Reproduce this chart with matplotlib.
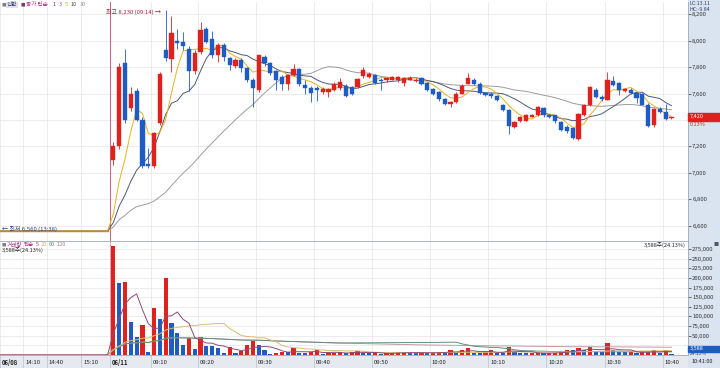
import matplotlib.pyplot as plt
import matplotlib.transforms as mtransforms
from matplotlib.patches import Rectangle
import numpy as np
import pandas as pd

plt.rcParams['font.family'] = ['Noto Sans CJK KR', 'DejaVu Sans']

# 06/08 (전일) - 6,560 에서 거래 거의 없음
prev_close = [6560] * 20
prev_vol = [0] * 20

# 06/11 1분봉 09:00 ~ 10:41
opens = [7100, 7200, 7830, 7490, 7620, 7400, 7070, 7050, 7380, 7930,
         7865, 8000, 7990, 7940, 7770, 7915, 8085, 8015, 7890, 7965,
         7870, 7805, 7855, 7790, 7705, 7630, 7875, 7830, 7770, 7725,
         7675, 7740, 7785, 7665, 7645, 7645, 7610, 7615, 7630, 7640,
         7660, 7650, 7650, 7730, 7725, 7740, 7705, 7700, 7705, 7700,
         7680, 7705, 7695, 7715, 7680, 7635, 7610, 7560, 7523, 7535,
         7600, 7675, 7705, 7675, 7605, 7600, 7580, 7510, 7472, 7350,
         7391, 7396, 7425, 7434, 7492, 7435, 7434, 7383, 7350, 7340,
         7256, 7434, 7510, 7629, 7575, 7553, 7694, 7679, 7620, 7629,
         7603, 7599, 7517, 7365, 7485, 7464, 7415]
highs = [7230, 7830, 7940, 7650, 7640, 7420, 7190, 7310, 7760, 8230,
         8190, 8090, 8065, 7960, 7930, 8145, 8100, 8075, 7980, 7985,
         7880, 7870, 7870, 7800, 7715, 7895, 7890, 7840, 7780, 7740,
         7750, 7825, 7795, 7700, 7660, 7660, 7650, 7645, 7690, 7720,
         7670, 7660, 7720, 7800, 7760, 7750, 7715, 7725, 7735, 7730,
         7725, 7730, 7715, 7725, 7690, 7645, 7620, 7570, 7545, 7610,
         7670, 7757, 7715, 7685, 7615, 7610, 7590, 7520, 7480, 7390,
         7430, 7445, 7445, 7505, 7500, 7445, 7440, 7390, 7360, 7350,
         7455, 7520, 7660, 7640, 7590, 7765, 7730, 7690, 7645, 7640,
         7610, 7605, 7525, 7490, 7495, 7520, 7425]
lows = [7060, 7180, 7380, 7470, 7390, 7040, 7040, 7040, 7360, 7850,
        7760, 7940, 7930, 7620, 7750, 7900, 7980, 7870, 7840, 7850,
        7775, 7790, 7765, 7690, 7500, 7610, 7810, 7740, 7630, 7625,
        7630, 7730, 7660, 7600, 7535, 7540, 7600, 7575, 7620, 7630,
        7575, 7590, 7640, 7720, 7715, 7670, 7630, 7690, 7700, 7690,
        7660, 7700, 7690, 7665, 7620, 7590, 7545, 7510, 7497, 7530,
        7595, 7670, 7665, 7595, 7580, 7570, 7540, 7470, 7295, 7340,
        7385, 7390, 7420, 7430, 7425, 7415, 7380, 7315, 7300, 7255,
        7250, 7430, 7505, 7565, 7540, 7550, 7655, 7590, 7610, 7595,
        7530, 7510, 7350, 7345, 7455, 7400, 7410]
closes = [7200, 7800, 7400, 7600, 7400, 7050, 7050, 7300, 7745, 7870,
          8055, 7985, 7960, 7770, 7905, 8080, 7990, 7890, 7965, 7875,
          7815, 7855, 7795, 7705, 7640, 7890, 7830, 7755, 7705, 7675,
          7740, 7785, 7670, 7645, 7605, 7630, 7635, 7635, 7675, 7690,
          7585, 7600, 7710, 7775, 7750, 7680, 7695, 7715, 7725, 7725,
          7715, 7720, 7705, 7675, 7630, 7600, 7560, 7520, 7535, 7600,
          7660, 7720, 7675, 7605, 7590, 7580, 7548, 7477, 7358, 7383,
          7421, 7434, 7435, 7497, 7434, 7425, 7391, 7325, 7320, 7264,
          7447, 7510, 7649, 7573, 7560, 7705, 7662, 7624, 7635, 7603,
          7568, 7517, 7358, 7485, 7464, 7409, 7420]
volumes = [282000, 188000, 190000, 85000, 48000, 79000, 7000, 123000, 94000, 201000,
           84000, 57000, 27000, 44000, 15000, 46000, 24000, 24000, 17000, 6000,
           20000, 6000, 10000, 25000, 37000, 26000, 13000, 3000, 5000, 8000,
           8000, 18000, 4000, 4000, 8000, 13000, 3000, 5000, 6000, 7000,
           4000, 8000, 10000, 5000, 4000, 6000, 3000, 4000, 5000, 7000,
           9000, 5000, 4000, 6000, 5000, 7000, 8000, 6000, 14000, 5000,
           12000, 18000, 5000, 4000, 7000, 12000, 6000, 5000, 20000, 8000,
           6000, 4000, 5000, 6000, 4000, 5000, 6000, 8000, 14000, 12000,
           18000, 12000, 20000, 10000, 8000, 30000, 12000, 9000, 7000, 8000,
           6000, 7000, 9000, 12000, 5000, 14000, 3588]

price_ticks = [6600, 6800, 7000, 7200, 7600, 7800, 8000, 8200]   # 7,400 은 현재가 박스에 가려짐
vol_ticks = [50000, 75000, 100000, 125000, 150000, 175000, 200000, 225000, 250000, 275000]

time_labels = ['06/08', '14:10', '14:40', '15:10', '06/11', '09:10', '09:20', '09:30',
               '09:40', '09:50', '10:00', '10:10', '10:20', '10:30', '10:40']
time_pos = [-19, -15, -11, -5, 0, 7, 15, 25, 35, 45, 55, 65, 75, 85, 95]

RED = '#e0221e'
BLUE = '#1d5cc2'

W, H = 720, 368


def box(l, t, r, b):
    return [l / W, 1 - b / H, (r - l) / W, (b - t) / H]


def ftext(px, py, s, **kw):
    kw.setdefault('size', 4)
    kw.setdefault('va', 'center')
    return fig.text(px / W, 1 - py / H, s, **kw)


fig = plt.figure(figsize=(7.2, 3.68), dpi=100)
fig.patch.set_facecolor('white')
fig.patches.append(Rectangle((688 / W, 0), 32 / W, 1, transform=fig.transFigure,
                             color='#dae4f0', zorder=-1))

ax_p = fig.add_axes(box(0, 2, 688, 241))
ax_v = fig.add_axes(box(0, 241, 688, 355), sharex=ax_p)
ax_t = fig.add_axes(box(0, 355, 688, 368), sharex=ax_p)

x_prev = np.arange(-len(prev_close), 0)
x_day = np.arange(len(closes))
x_all = np.concatenate([x_prev, x_day])

o = np.array(opens)
h = np.array(highs)
l = np.array(lows)
c = np.array(closes)
v = np.array(volumes)

# 가격 이동평균
close_all = pd.Series(prev_close + closes, dtype=float)
ma_cfg = [(30, '#9c9c9c'), (10, '#4c5a78'), (5, '#e8b21e')]
for n, col in ma_cfg:
    ax_p.plot(x_all, close_all.rolling(n, min_periods=1).mean(), color=col, lw=0.7, zorder=3)
# 전일 구간 (보합)
ax_p.plot(x_prev, prev_close, color='#c8862a', lw=1.0, zorder=3)

# 캔들
cols = np.where(c >= o, RED, BLUE)
ax_p.vlines(x_day, l, h, colors=cols, lw=0.6, zorder=4)
ax_p.bar(x_day, np.maximum(np.abs(c - o), 6), bottom=np.minimum(o, c), width=0.72,
         color=cols, edgecolor=cols, lw=0.3, zorder=5)

ax_p.set_xlim(-19.4, 98.85)
ax_p.set_ylim(6484, 8293)
ax_p.set_yticks(price_ticks)
ax_p.set_yticklabels([f'{t:,}' for t in price_ticks])
ax_p.set_xticks([p - 0.5 for p in time_pos])
ax_p.yaxis.tick_right()
ax_p.tick_params(axis='y', length=2, width=0.5, pad=1, labelsize=4.3, colors='#333333')
ax_p.tick_params(axis='x', length=0, labelbottom=False)
ax_p.grid(color='#e4e4e4', lw=0.5)
ax_p.axhline(7400, color='#e4e4e4', lw=0.5, zorder=0)
ax_p.axvline(-0.5, color='#d0607a', lw=0.7, zorder=2)
for s in ['top', 'left', 'bottom']:
    ax_p.spines[s].set_visible(False)
ax_p.spines['right'].set_color('#a0a8b4')
ax_p.spines['right'].set_linewidth(0.6)

ax_p.text(8.2, 8215, '최고 8,230 (09:14) →', ha='right', va='center', size=4.3, color='#a02040', zorder=6)
ax_p.text(-19.1, 6578, '← 최저 6,560 (13:38)', ha='left', va='center', size=4.3, color='#2a3a8a', zorder=6)

# 거래량
vol_all = pd.Series(prev_vol + volumes, dtype=float)
vcols = [RED if i > 0 and volumes[i] > volumes[i - 1] else BLUE for i in range(len(volumes))]
vcols[0] = RED
ax_v.bar(x_day, v, width=0.72, color=vcols, zorder=3)
vma_cfg = [(120, '#c898a8'), (60, '#5f8f78'), (20, '#d8c070'), (5, '#8e4a7a')]
for n, col in vma_cfg:
    ax_v.plot(x_all, vol_all.rolling(n, min_periods=1).mean(), color=col, lw=0.7, zorder=4)

ax_v.set_ylim(0, 296000)
ax_v.set_yticks(vol_ticks)
ax_v.set_yticklabels([f'{t:,}' for t in vol_ticks])
ax_v.yaxis.tick_right()
ax_v.tick_params(axis='y', length=2, width=0.5, pad=1, labelsize=4.3, colors='#333333')
ax_v.tick_params(axis='x', length=0, labelbottom=False)
ax_v.grid(color='#e4e4e4', lw=0.5)
ax_v.axhline(25000, color='#e4e4e4', lw=0.5, zorder=0)
ax_v.axvline(-0.5, color='#d0a0b0', lw=0.6, zorder=2)
for s in ['left', 'bottom']:
    ax_v.spines[s].set_visible(False)
for s in ['top', 'right']:
    ax_v.spines[s].set_color('#a0a8b4')
    ax_v.spines[s].set_linewidth(0.6)

# 시간축
ax_t.set_facecolor('#e6eaf0')
ax_t.set_ylim(0, 1)
ax_t.tick_params(length=0, labelbottom=False, labelleft=False)
for s in ['left', 'bottom', 'right']:
    ax_t.spines[s].set_visible(False)
ax_t.spines['top'].set_color('#a0a8b4')
ax_t.spines['top'].set_linewidth(0.6)
trans = mtransforms.blended_transform_factory(ax_t.transData, ax_t.transAxes)
for lbl, p in zip(time_labels, time_pos):
    ax_t.axvline(p - 0.5, color='#b8c0cc', lw=0.5)
    bold = '/' in lbl
    ax_t.text(p - 0.5 + 0.3, 0.45, lbl, transform=trans, ha='left', va='center', size=4.3,
              color='#222222', weight='bold' if bold else 'normal')

# 범례 / 라벨
ftext(2, 5, '■', color='#808080', size=3.2)
ftext(7, 5, '신한', color='#1e2e7a', bbox=dict(boxstyle='square,pad=0.1', fc='#e2e2e2', ec='none'))
ftext(21, 5, '■', color='#7a3a6a', size=3.2)
ftext(26, 5, '종가 단순', color='#b02a8a')
ftext(53, 5, '1', color='#603a70')
ftext(59, 5, '3', color='#806080')
ftext(65, 5, '5', color='#d8b020')
ftext(71, 5, '10', color='#505050')
ftext(80, 5, '30', color='#909090')

ftext(2, 245, '■', color='#808080', size=3.2)
ftext(7, 245, '거래량', color='#b02a8a')
ftext(24, 245, '단순', color='#b02a8a')
ftext(36, 245, '5', color='#8e4a7a')
ftext(41, 245, '20', color='#d0b860')
ftext(49, 245, '60', color='#5f8f78')
ftext(57, 245, '120', color='#a08090')
ftext(2, 250.5, '3,588주(24.13%)', color='#222222')
ftext(686, 245, '3,588주(24.13%)', color='#222222', ha='right')

ftext(690, 3.5, 'LC:13.11', color='#304070', size=3.8)
ftext(690, 9.5, 'HC:-9.84', color='#304070', size=3.8)

fig.patches.append(Rectangle((688 / W, 1 - 120.5 / H), 32 / W, 7.5 / H, transform=fig.transFigure,
                             color='#e02020', zorder=5))
ftext(690, 116.8, '7,420', color='white', zorder=6)
ftext(690, 124.5, '0.13%', color='#e02020')

fig.patches.append(Rectangle((688 / W, 1 - 351.5 / H), 32 / W, 5.5 / H, transform=fig.transFigure,
                             color=BLUE, zorder=5))
ftext(690, 348.8, '3,588', color='white', zorder=6)
ftext(690, 353.5, '24.13%', color='#304070', size=3.6)
ftext(692, 361.5, '10:41:00', color='#222222')
ftext(713, 244, '■', color='#505868', size=3.6)

plt.savefig('out.png', dpi=100)
